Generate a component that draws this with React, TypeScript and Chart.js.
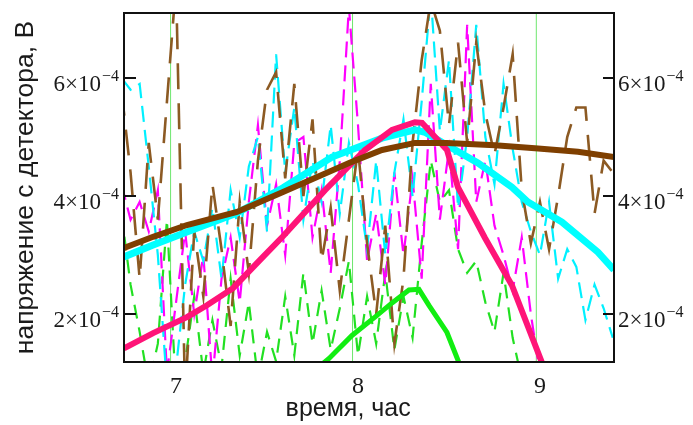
import React, { useEffect, useRef } from "react";
import { Chart, registerables } from "chart.js";

Chart.register(...registerables);

// Axis bounds
const xMin = 6.714;
const xMax = 9.407;
const yMin = 1.19e-4;
const yMax = 7.1e-4;

// Thin vertical marker lines (hours)
const markerTimes = [6.97, 7.97, 8.98];

// Sample times for the noisy (dashed) measurements, hours
const times = [
  6.7, 6.75, 6.8, 6.85, 6.9, 6.95, 7.0, 7.05, 7.1, 7.15,
  7.2, 7.25, 7.3, 7.35, 7.4, 7.45, 7.5, 7.55, 7.6, 7.65,
  7.7, 7.75, 7.8, 7.85, 7.9, 7.95, 8.0, 8.05, 8.1, 8.15,
  8.2, 8.25, 8.3, 8.35, 8.4, 8.45, 8.5, 8.55, 8.6, 8.65,
  8.7, 8.75, 8.8, 8.85, 8.9, 8.95, 9.0, 9.05, 9.1, 9.15,
  9.2, 9.25, 9.3, 9.35, 9.4,
];

// Noisy series, volts
const brownNoisy = [
  5.8e-4, 4.4e-4, 2.6e-4, 4.9e-4, 3.6e-4, 5.6e-4, 7.6e-4, 0.6e-4, 3.4e-4, 2.3e-4,
  4.2e-4, 3.1e-4, 1.8e-4, 3.9e-4, 2.7e-4, 4.6e-4, 5.8e-4, 6.1e-4, 4.3e-4, 5.9e-4,
  4.0e-4, 5.3e-4, 2.9e-4, 3.8e-4, 2.4e-4, 3.6e-4, 4.8e-4, 3.2e-4, 2.0e-4, 3.5e-4,
  1.5e-4, 2.6e-4, 4.9e-4, 6.3e-4, 7.3e-4, 6.8e-4, 5.2e-4, 6.6e-4, 4.9e-4, 6.6e-4,
  5.4e-4, 4.7e-4, 5.5e-4, 6.4e-4, 4.1e-4, 3.2e-4, 3.9e-4, 3.1e-4, 4.0e-4, 5.0e-4,
  5.5e-4, 5.5e-4, 3.7e-4, 4.6e-4, 4.4e-4,
];
const cyanNoisy = [
  6.0e-4, 5.8e-4, 5.9e-4, 4.5e-4, 3.0e-4, 0.8e-4, 1.1e-4, 2.5e-4, 3.4e-4, 2.9e-4,
  3.8e-4, 2.6e-4, 4.1e-4, 3.3e-4, 4.5e-4, 5.0e-4, 3.4e-4, 6.4e-4, 4.4e-4, 5.5e-4,
  3.6e-4, 4.6e-4, 3.9e-4, 5.2e-4, 3.7e-4, 4.9e-4, 4.2e-4, 3.1e-4, 4.6e-4, 3.0e-4,
  4.4e-4, 5.3e-4, 4.0e-4, 5.6e-4, 7.4e-4, 5.1e-4, 6.3e-4, 3.8e-4, 5.0e-4, 6.9e-4,
  5.0e-4, 4.2e-4, 5.9e-4, 4.8e-4, 3.9e-4, 3.4e-4, 3.0e-4, 3.9e-4, 2.6e-4, 3.1e-4,
  2.8e-4, 1.9e-4, 2.5e-4, 2.1e-4, 1.6e-4,
];
const magentaNoisy = [
  4.2e-4, 3.6e-4, 3.9e-4, 3.4e-4, 4.1e-4, 1.0e-4, 2.2e-4, 3.4e-4, 2.0e-4, 3.0e-4,
  0.9e-4, 2.6e-4, 3.3e-4, 2.2e-4, 3.9e-4, 5.2e-4, 3.5e-4, 4.2e-4, 3.0e-4, 4.9e-4,
  5.0e-4, 3.3e-4, 4.1e-4, 2.7e-4, 4.6e-4, 7.2e-4, 5.2e-4, 2.9e-4, 3.7e-4, 2.5e-4,
  4.4e-4, 3.0e-4, 4.3e-4, 2.6e-4, 5.9e-4, 3.6e-4, 4.8e-4, 3.1e-4, 6.9e-4, 3.9e-4,
  4.6e-4, 3.5e-4, 3.0e-4, 2.4e-4, 3.3e-4, 2.0e-4, 1.0e-4, null, null, null,
  null, null, null, null, null,
];
const greenNoisy = [
  3.7e-4, 2.5e-4, 1.7e-4, 0.8e-4, 1.5e-4, 3.6e-4, 0.7e-4, 1.2e-4, 2.3e-4, 1.0e-4,
  1.9e-4, 1.1e-4, 2.6e-4, 1.3e-4, 2.2e-4, 0.9e-4, 1.7e-4, 1.2e-4, 2.3e-4, 1.3e-4,
  2.7e-4, 1.5e-4, 2.4e-4, 1.4e-4, 2.1e-4, 2.9e-4, 1.3e-4, 2.3e-4, 1.5e-4, 2.7e-4,
  1.4e-4, 2.3e-4, 1.6e-4, 3.2e-4, 4.6e-4, 3.9e-4, 4.1e-4, 3.1e-4, 2.7e-4, 2.9e-4,
  2.2e-4, 1.7e-4, 2.7e-4, 1.6e-4, 0.9e-4, null, null, null, null, null,
  null, null, null, null, null,
];

// Smoothed curves
const brownSmoothX = [6.714, 6.874, 7.06, 7.335, 7.588, 7.951, 8.132, 8.313, 8.489, 8.753, 8.973, 9.209, 9.407];
const brownSmoothY = [3.12e-4, 3.31e-4, 3.51e-4, 3.73e-4, 4.07e-4, 4.56e-4, 4.78e-4, 4.9e-4, 4.9e-4, 4.86e-4, 4.81e-4, 4.75e-4, 4.66e-4];

const cyanSmoothX = [6.714, 6.874, 7.06, 7.335, 7.588, 7.857, 8.132, 8.313, 8.368, 8.489, 8.659, 8.846, 8.934, 9.121, 9.319, 9.407];
const cyanSmoothY = [2.97e-4, 3.17e-4, 3.39e-4, 3.71e-4, 4.14e-4, 4.66e-4, 4.98e-4, 5.12e-4, 5.08e-4, 4.86e-4, 4.56e-4, 4.15e-4, 3.9e-4, 3.56e-4, 3.05e-4, 2.75e-4];

const pinkSmoothX = [6.714, 6.874, 7.06, 7.17, 7.313, 7.462, 7.588, 7.819, 8.038, 8.187, 8.313, 8.352, 8.489, 8.549, 8.698, 8.846, 9.04];
const pinkSmoothY = [1.42e-4, 1.68e-4, 1.95e-4, 2.15e-4, 2.44e-4, 2.92e-4, 3.32e-4, 4.1e-4, 4.78e-4, 5.12e-4, 5.25e-4, 5.24e-4, 4.78e-4, 4.15e-4, 3.29e-4, 2.49e-4, 0.95e-4];

const greenSmoothX = [7.79, 7.841, 7.967, 8.093, 8.187, 8.28, 8.335, 8.39, 8.489, 8.565];
const greenSmoothY = [1.12e-4, 1.25e-4, 1.64e-4, 1.95e-4, 2.19e-4, 2.41e-4, 2.42e-4, 2.15e-4, 1.69e-4, 1.1e-4];

const toPoints = (xs: number[], ys: (number | null)[]) =>
  xs.map((x, i) => ({ x, y: ys[i] }));

const serif = "'Liberation Serif', 'Times New Roman', serif";
const sans = "'Liberation Sans', Arial, sans-serif";

// Frame, inward tick marks and "n×10^−4" labels on both value axes
const framePlugin = {
  id: "frameTicks",
  afterDraw(chart: any) {
    const { ctx, chartArea: a, scales } = chart;
    ctx.save();
    ctx.strokeStyle = "#111";
    ctx.lineWidth = 2;
    ctx.strokeRect(a.left, a.top, a.right - a.left, a.bottom - a.top);
    const ys = scales.y;
    ys.ticks.forEach((t: any) => {
      const py = Math.round(ys.getPixelForValue(t.value));
      ctx.beginPath();
      ctx.moveTo(a.left, py);
      ctx.lineTo(a.left + 12, py);
      ctx.moveTo(a.right - 11, py);
      ctx.lineTo(a.right, py);
      ctx.stroke();

      const base = `${Math.round(Number(t.value) * 1e4)}×10`;
      const exp = "−4";
      ctx.fillStyle = "#1a1a1a";
      ctx.textAlign = "left";
      ctx.textBaseline = "alphabetic";
      ctx.font = `23px ${serif}`;
      const wb = ctx.measureText(base).width;
      ctx.font = `16px ${serif}`;
      const we = ctx.measureText(exp).width;
      // left axis
      const xl = a.left - 6 - we - wb;
      ctx.font = `23px ${serif}`;
      ctx.fillText(base, xl, py + 13);
      ctx.font = `16px ${serif}`;
      ctx.fillText(exp, xl + wb + 1, py + 3);
      // right axis
      const xr = a.right + 4;
      ctx.font = `23px ${serif}`;
      ctx.fillText(base, xr, py + 13);
      ctx.font = `16px ${serif}`;
      ctx.fillText(exp, xr + wb + 1, py + 3);
    });
    ctx.restore();
  },
};

export default function App() {
  const ref = useRef<HTMLCanvasElement | null>(null);

  useEffect(() => {
    if (!ref.current) return;
    const line = (
      label: string,
      data: any[],
      color: string,
      width: number,
      order: number,
      dash: number[] = []
    ) => ({
      label,
      data,
      borderColor: color,
      backgroundColor: color,
      borderWidth: width,
      borderDash: dash,
      pointRadius: 0,
      tension: 0,
      fill: false,
      order,
      clip: 0,
      spanGaps: false,
      yAxisID: "y",
    });

    const markerSets = markerTimes.map((t, i) =>
      line(`marker${i}`, [{ x: t, y: yMin }, { x: t, y: yMax }], "#6ee66e", 1, 20)
    );

    const chart = new Chart(ref.current, {
      type: "line",
      data: {
        datasets: [
          ...markerSets,
          line("green noisy", toPoints(times, greenNoisy), "#22e022", 2.2, 12, [14, 9]),
          line("magenta noisy", toPoints(times, magentaNoisy), "#ff00ff", 2.2, 11, [16, 8]),
          line("cyan noisy", toPoints(times, cyanNoisy), "#00f0ff", 2.2, 10, [16, 8]),
          line("brown noisy", toPoints(times, brownNoisy), "#8c5a23", 2.6, 9, [26, 14]),
          line("green", toPoints(greenSmoothX, greenSmoothY), "#11ee11", 5, 4),
          line("cyan", toPoints(cyanSmoothX, cyanSmoothY), "#00ffff", 7, 3),
          line("pink", toPoints(pinkSmoothX, pinkSmoothY), "#ff1478", 6, 2),
          line("brown", toPoints(brownSmoothX, brownSmoothY), "#7f3f00", 6, 1),
        ],
      },
      options: {
        animation: false,
        responsive: true,
        maintainAspectRatio: false,
        layout: { padding: { top: 13, left: 0, right: 0, bottom: 0 } },
        plugins: {
          legend: { display: false },
          tooltip: { enabled: false },
        },
        scales: {
          x: {
            type: "linear",
            min: xMin,
            max: xMax,
            grid: { display: false },
            border: { display: false },
            ticks: {
              stepSize: 1,
              includeBounds: false,
              maxRotation: 0,
              padding: 2,
              color: "#1a1a1a",
              font: { family: serif, size: 24 },
              callback: (v: any) => String(v),
            },
            title: {
              display: true,
              text: "время, час      ",
              color: "#1a1a1a",
              font: { family: sans, size: 25 },
              padding: { top: 0, bottom: 1 },
            },
            afterFit: (s: any) => {
              s.height = 63;
            },
          },
          y: {
            type: "linear",
            position: "left",
            min: yMin,
            max: yMax,
            grid: { display: false },
            border: { display: false },
            ticks: {
              display: false,
              stepSize: 2e-4,
              includeBounds: false,
            },
            title: {
              display: true,
              text: "напряжение с детектора, В",
              color: "#1a1a1a",
              font: { family: sans, size: 26.5 },
              padding: { top: 10, bottom: 0 },
            },
            afterFit: (s: any) => {
              s.width = 124;
            },
          },
          y2: {
            type: "linear",
            position: "right",
            min: yMin,
            max: yMax,
            grid: { display: false },
            border: { display: false },
            ticks: {
              display: false,
              stepSize: 2e-4,
              includeBounds: false,
            },
            afterFit: (s: any) => {
              s.width = 79;
            },
          },
        },
      },
      plugins: [framePlugin],
    });
    return () => chart.destroy();
  }, []);

  return (
    <div style={{ position: "fixed", left: 0, top: 0, width: 693, height: 425, background: "#fff" }}>
      <canvas ref={ref} />
    </div>
  );
}
